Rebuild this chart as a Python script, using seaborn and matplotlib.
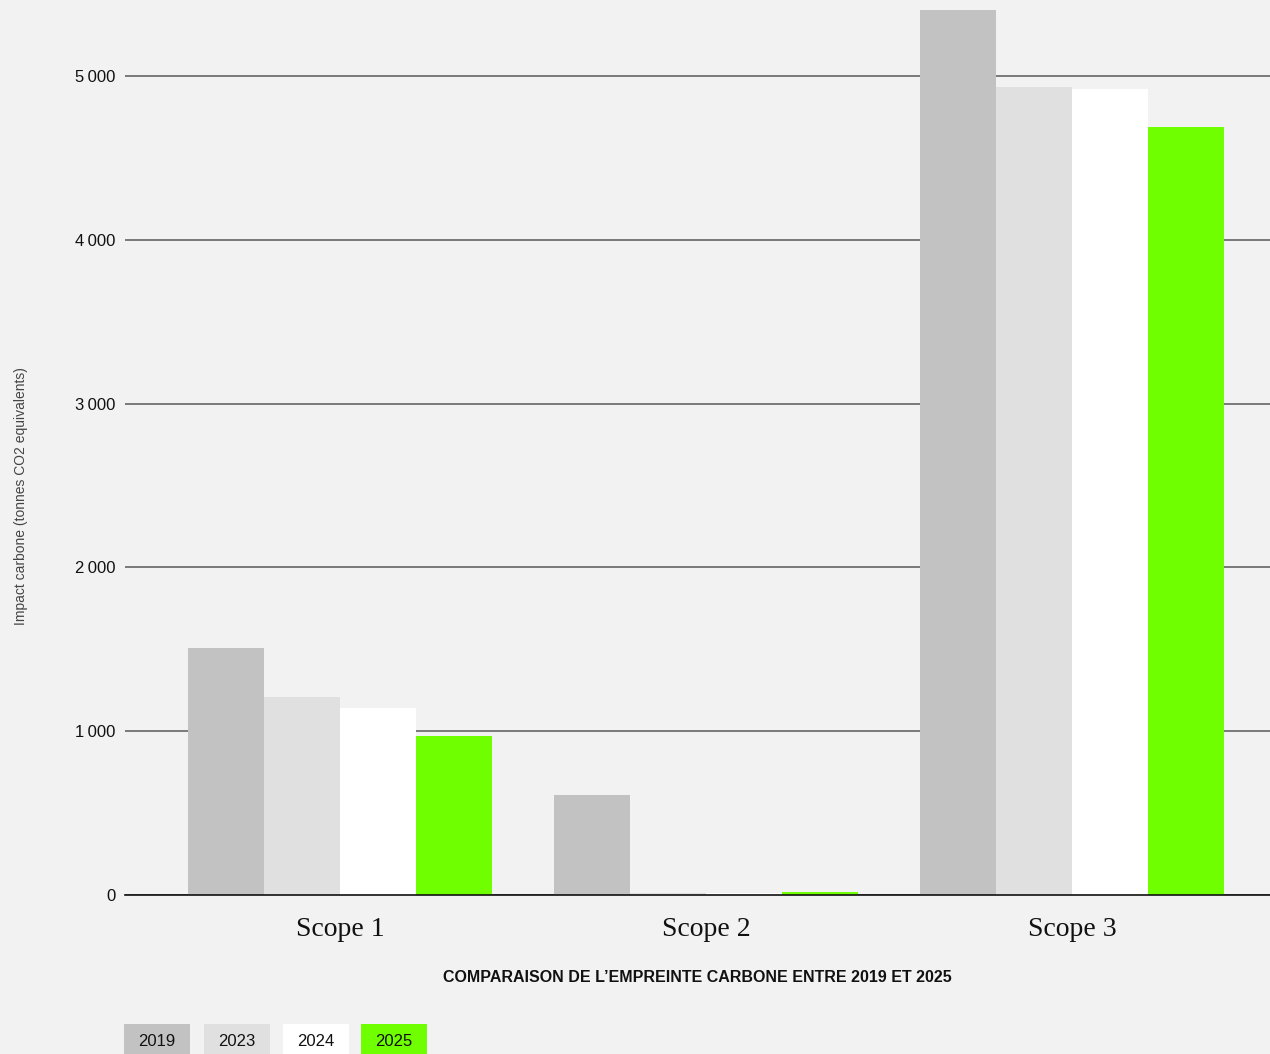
import matplotlib
matplotlib.use("Agg")
import matplotlib.pyplot as plt
from matplotlib.patches import Rectangle
from matplotlib.ticker import FuncFormatter
import seaborn as sns
import pandas as pd

# Emissions per scope (tonnes CO2e)
scopes = ["Scope 1", "Scope 2", "Scope 3"]
years = ["2019", "2023", "2024", "2025"]
values_2019 = [1510, 610, 5400]
values_2023 = [1210, 15, 4935]
values_2024 = [1140, 12, 4920]
values_2025 = [970, 20, 4690]
colors = ["#c2c2c2", "#e0e0e0", "#ffffff", "#70ff00"]

series = [values_2019, values_2023, values_2024, values_2025]
rows = []
for year, vals in zip(years, series):
    for scope, v in zip(scopes, vals):
        rows.append({"scope": scope, "year": year, "value": v})
df = pd.DataFrame(rows)

BG = "#f2f2f2"
sns.set_theme(style="white")
plt.rcParams["font.family"] = ["Liberation Sans", "DejaVu Sans"]

W, H = 1270, 1054
fig = plt.figure(figsize=(W / 100, H / 100), dpi=100, facecolor=BG)
ax = fig.add_axes([125 / W, (H - 895) / H, 1 - 125 / W, 895 / H])
ax.set_facecolor(BG)

sns.barplot(data=df, x="scope", y="value", hue="year", order=scopes,
            hue_order=years, palette=colors, width=0.83, saturation=1,
            legend=False, linewidth=0, ax=ax)

ax.set_xlim(-0.587, 2.541)
ax.set_ylim(0, 5464)
ax.set_yticks([0, 1000, 2000, 3000, 4000, 5000])
ax.yaxis.set_major_formatter(FuncFormatter(
    lambda v, p: f"{int(v):,}".replace(",", "\u2009")))
ax.set_axisbelow(True)
ax.yaxis.grid(True, color="#707070", linewidth=1.3)
ax.xaxis.grid(False)
for side in ["left", "right", "top"]:
    ax.spines[side].set_visible(False)
ax.spines["bottom"].set_color("#111111")
ax.spines["bottom"].set_linewidth(1.2)
ax.tick_params(axis="y", length=0, pad=7, labelsize=12, labelcolor="#111111")
ax.tick_params(axis="x", length=0, pad=16)
for lab in ax.get_xticklabels():
    lab.set_fontfamily(["Liberation Serif", "DejaVu Serif"])
    lab.set_fontsize(20)
    lab.set_color("#111111")
ax.set_xlabel("")
ax.set_ylabel("")

fig.text(21 / W, 1 - 496 / H, "Impact carbone (tonnes CO2 equivalents)",
         rotation=90, ha="center", va="center", fontsize=10, color="#444444")

fig.text(697 / W, 1 - 977 / H,
         "COMPARAISON DE L\u2019EMPREINTE CARBONE ENTRE 2019 ET 2025",
         ha="center", va="center", fontsize=11.5, fontweight="bold",
         color="#111111")

# Legend chips along the bottom edge
chip_x = [124, 204, 283, 361]
chip_w = 66
for x0, year, col in zip(chip_x, years, colors):
    fig.add_artist(Rectangle((x0 / W, 0), chip_w / W, 30 / H,
                             transform=fig.transFigure, facecolor=col,
                             edgecolor="none"))
    fig.text((x0 + chip_w / 2) / W, 1 - 1041 / H, year, ha="center",
             va="center", fontsize=12, color="#111111")

fig.savefig("out.png", dpi=100, facecolor=BG)
